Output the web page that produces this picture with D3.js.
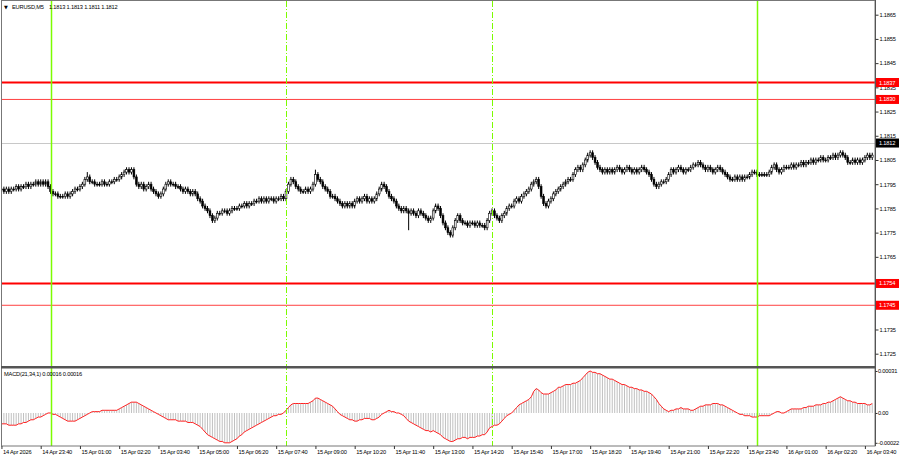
<!DOCTYPE html>
<html>
<head>
<meta charset="utf-8">
<script src="https://cdn.jsdelivr.net/npm/d3@7"></script>
<style>
  body { margin: 0; background: #fff; }
  svg text { font-family: "Liberation Sans", Arial, sans-serif; font-size: 5.7px; letter-spacing: -0.2px; fill: #000; }
</style>
</head>
<body>
<div id="chart"></div>
<script>
// EURUSD M5, 14 Apr 22:20 .. 16 Apr 03:55, prices in pips above BASE
const BASE = 1.17;
const open = [
  93,93,92,93,92,93,93,94, 93,94,94,95,94,95,95,96, 95,96,95,96,94,92,91,91, 90,90,90,91,90,91,92,93,
  93,94,95,97,98,96,96,95, 95,95,96,95,95,96,96,97, 97,98,99,100,101,100,101,98, 95,94,95,93,94,95,93,92,
  91,90,91,93,95,96,95,95, 94,94,93,92,93,92,91,92, 91,89,88,86,85,84,82,80, 81,83,83,84,84,83,84,85,
  85,85,86,86,87,86,87,87, 88,88,89,88,89,88,89,89, 88,89,89,90,89,92,95,97, 96,94,93,92,92,93,92,93,
  95,99,97,96,94,93,92,90, 90,89,88,87,86,87,86,87, 86,88,89,88,89,90,88,89, 88,89,91,93,95,94,92,90,
  89,88,86,85,84,85,84,83, 84,83,82,84,83,82,81,80, 81,84,86,85,82,79,77,75, 74,77,80,82,80,79,79,78,
  79,79,78,79,78,78,77,80, 83,84,82,81,80,82,83,85, 86,86,88,89,88,90,91,92, 93,95,96,97,94,90,87,86,
  88,89,91,92,93,94,95,96, 97,97,99,101,102,101,103,105, 107,108,106,104,102,101,100,101, 100,101,100,101,102,101,100,101,
  102,101,100,101,100,101,102,101, 100,99,97,95,94,95,96,96, 97,99,101,100,101,102,101,100, 101,101,102,103,103,104,103,102,
  101,102,101,100,101,102,101,100, 99,98,97,97,98,97,98,97, 98,98,99,100,100,99,99,99, 99,99,100,102,103,101,100,101,
  102,102,102,103,102,103,103,104, 103,104,104,105,104,105,105,106, 105,105,106,106,107,106,107,108, 107,106,104,104,105,104,105,104,
  105,106,107,106
];
const high = [
  94,94,94,94,94,94,95,95, 95,95,96,96,96,96,97,97, 97,97,97,97,95,93,92,92, 91,91,92,92,92,93,94,94,
  95,96,98,100,99,97,97,96, 96,97,97,96,97,97,98,98, 99,100,101,102,102,102,102,99, 96,96,96,95,96,96,94,93,
  92,92,94,96,97,97,96,96, 95,95,94,94,94,93,93,93, 92,90,89,87,86,85,83,82, 84,84,85,85,85,85,86,86,
  86,87,87,88,88,88,88,89, 89,90,90,90,90,90,90,90, 90,90,91,91,93,96,98,98, 97,95,94,93,94,94,94,96,
  101,100,98,97,95,94,93,91, 91,90,89,88,88,88,88,88, 89,90,90,90,91,91,90,90, 90,92,94,96,96,95,93,91,
  90,89,87,86,86,86,85,85, 85,84,85,85,84,83,82,82, 85,87,87,86,83,80,78,76, 78,81,83,83,81,80,80,80,
  80,80,80,80,79,79,81,84, 85,85,83,82,83,84,86,87, 87,89,90,90,91,92,93,94, 96,97,98,98,95,91,88,89,
  90,92,93,94,95,96,97,98, 98,100,102,103,103,104,106,108, 109,109,107,105,103,102,102,102, 102,102,102,103,103,102,102,103,
  103,102,102,102,102,103,103,102, 101,100,98,96,96,97,97,98, 100,102,102,102,103,103,102,102, 102,103,104,104,105,105,104,103,
  103,103,102,102,103,103,102,101, 100,99,98,99,99,99,99,99, 99,100,101,101,101,100,100,100, 100,101,103,104,104,102,102,103,
  103,103,104,104,104,104,105,105, 105,105,106,106,106,106,107,107, 106,107,107,108,108,108,109,109, 108,107,105,106,106,106,106,106,
  107,108,108,108
];
const low = [
  92,91,91,91,91,92,92,92, 92,93,93,93,93,94,94,94, 94,94,94,93,91,90,90,89, 89,89,89,89,89,90,91,92,
  92,93,94,96,95,95,94,94, 94,94,94,94,94,95,95,96, 96,97,98,99,99,99,97,94, 93,93,92,92,93,92,91,90,
  89,89,90,92,94,94,94,93, 93,92,91,91,91,90,90,90, 88,87,85,84,83,81,79,79, 80,82,82,83,82,82,83,84,
  84,84,85,85,85,85,86,86, 87,87,87,87,87,87,88,87, 87,88,88,88,88,91,94,95, 93,92,91,91,91,91,91,92,
  94,96,95,93,92,91,89,89, 88,87,86,85,85,85,85,85, 85,87,87,87,88,87,87,87, 87,88,90,92,93,91,89,88,
  87,85,84,83,83,83,76,82, 82,81,81,82,81,80,79,79, 80,83,84,81,78,76,74,73, 73,76,79,79,78,78,77,77,
  78,77,77,77,77,76,76,79, 82,81,80,79,79,81,82,84, 85,85,87,87,87,89,90,91, 92,94,95,93,89,86,85,85,
  87,88,90,91,92,93,94,95, 96,96,98,100,100,100,102,104, 106,105,103,101,100,99,99,99, 99,99,99,100,100,99,99,100,
  100,99,99,99,99,100,100,99, 98,96,94,93,93,94,95,95, 96,98,99,99,100,100,99,99, 100,100,101,102,102,102,101,100,
  100,100,99,99,100,100,99,98, 97,96,96,96,96,96,96,96, 97,97,98,99,98,98,98,98, 98,98,99,101,100,99,99,100,
  101,101,101,101,101,102,102,102, 102,103,103,103,103,104,104,104, 104,104,105,105,105,105,106,106, 105,103,103,103,103,103,103,103,
  104,105,105,105
];
const close = [
  93,92,93,92,93,93,94,93, 94,94,95,94,95,95,96,95, 96,95,96,94,92,91,91,90, 90,90,91,90,91,92,93,93,
  94,95,97,98,96,96,95,95, 95,96,95,95,96,96,97,97, 98,99,100,101,100,101,98,95, 94,95,93,94,95,93,92,91,
  90,91,93,95,96,95,95,94, 94,93,92,93,92,91,92,91, 89,88,86,85,84,82,80,81, 83,83,84,84,83,84,85,85,
  85,86,86,87,86,87,87,88, 88,89,88,89,88,89,89,88, 89,89,90,89,92,95,97,96, 94,93,92,92,93,92,93,95,
  99,97,96,94,93,92,90,90, 89,88,87,86,87,86,87,86, 88,89,88,89,90,88,89,88, 89,91,93,95,94,92,90,89,
  88,86,85,84,85,84,83,84, 83,82,84,83,82,81,80,81, 84,86,85,82,79,77,75,74, 77,80,82,80,79,79,78,79,
  79,78,79,78,78,77,80,83, 84,82,81,80,82,83,85,86, 86,88,89,88,90,91,92,93, 95,96,97,94,90,87,86,88,
  89,91,92,93,94,95,96,97, 97,99,101,102,101,103,105,107, 108,106,104,102,101,100,101,100, 101,100,101,102,101,100,101,102,
  101,100,101,100,101,102,101,100, 99,97,95,94,95,96,96,97, 99,101,100,101,102,101,100,101, 101,102,103,103,104,103,102,101,
  102,101,100,101,102,101,100,99, 98,97,97,98,97,98,97,98, 98,99,100,100,99,99,99,99, 99,100,102,103,101,100,101,102,
  102,102,103,102,103,103,104,103, 104,104,105,104,105,105,106,105, 105,106,106,107,106,107,108,107, 106,104,104,105,104,105,104,105,
  106,107,106,107
];
// MACD(21,34,1) main = signal, in units of 0.00001
const macd = [
  -8,-8,-8,-9,-9,-9,-9,-8, -8,-7,-7,-6,-5,-5,-4,-3, -3,-2,-1,0,0,-1,-1,-2, -3,-4,-5,-6,-6,-6,-6,-5,
  -4,-3,-2,-1,0,1,1,1, 1,2,2,2,2,2,2,2, 3,4,5,6,7,8,8,8, 7,6,5,4,3,2,1,0,
  -1,-2,-3,-4,-5,-5,-5,-5, -6,-6,-6,-6,-7,-7,-7,-8, -9,-10,-12,-14,-16,-17,-18,-19, -20,-21,-21,-22,-22,-22,-21,-20,
  -19,-17,-16,-14,-13,-12,-11,-10, -9,-8,-7,-6,-5,-4,-3,-2, -2,-1,-1,0,2,4,6,7, 7,7,7,7,7,7,8,9,
  11,11,10,9,8,7,6,5, 3,1,-1,-2,-3,-4,-5,-5, -6,-6,-5,-5,-4,-4,-4,-5, -5,-4,-3,-1,0,1,2,1,
  1,0,0,-1,-2,-4,-6,-7, -8,-9,-10,-11,-12,-13,-13,-14, -13,-14,-15,-16,-18,-19,-20,-21, -21,-20,-19,-19,-18,-18,-19,-18,
  -18,-18,-17,-17,-16,-16,-14,-11, -10,-9,-9,-8,-6,-4,-2,-1, 0,2,4,6,7,8,9,10, 12,16,18,17,15,14,14,14,
  15,16,17,19,19,20,21,21, 21,22,22,23,24,26,28,30, 31,30,30,29,29,28,27,26, 25,25,24,23,22,21,21,20,
  19,19,18,18,17,17,16,16, 15,14,12,10,7,5,3,2, 1,2,2,3,3,4,3,3, 3,2,2,3,4,5,5,6,
  6,6,7,7,7,6,6,5, 4,3,2,1,0,-1,-1,-2, -2,-2,-3,-3,-3,-2,-2,-2, -2,-2,-1,0,1,1,0,0,
  1,2,3,3,3,3,3,4, 4,5,5,5,6,6,6,7, 7,8,8,9,10,11,12,11, 10,9,9,8,8,7,7,7,
  7,6,6,7
];
const priceTicks = [1.1865,1.1855,1.1845,1.1835,1.1825,1.1815,1.1805,1.1795,1.1785,1.1775,1.1765,1.1735,1.1725];
const levels = [1.1837, 1.1830, 1.1754, 1.1745];
const levelWeight = [2, 1, 2, 1];
const bidPrice = 1.1812;
const macdTicks = [31, 0, -22];
const macdTickText = ["0.00031", "0.00", "-0.00022"];
const timeLabels = ["14 Apr 2026","14 Apr 23:40","15 Apr 01:00","15 Apr 02:20","15 Apr 03:40","15 Apr 05:00",
  "15 Apr 06:20","15 Apr 07:40","15 Apr 09:00","15 Apr 10:20","15 Apr 11:40","15 Apr 13:00","15 Apr 14:20",
  "15 Apr 15:40","15 Apr 17:00","15 Apr 18:20","15 Apr 19:40","15 Apr 21:00","15 Apr 22:20","15 Apr 23:40",
  "16 Apr 01:00","16 Apr 02:20","16 Apr 03:40"];
const labelEvery = 16;
// bar index of the vertical lines: 15 Apr 00:00, 08:00, 15:00, 16 Apr 00:00
const sessionBars = [20, 116, 200, 308];
const sessionSolid = [true, false, false, true];
const titleText = "EURUSD,M5";
const titleOHLC = "1.1813 1.1813 1.1811 1.1812";
const macdTitle = "MACD(21,34,1) 0.00016 0.00016";

const W = 900, H = 460;
const left = 2, right = 875, mainTop = 1, mainBot = 366, subTop = 368, subBot = 446;
const barStep = 2.453;

const svg = d3.select("#chart").append("svg").attr("width", W).attr("height", H);
svg.append("rect").attr("width", W).attr("height", H).attr("fill", "#fff");

const x = d3.scaleLinear().domain([0, close.length - 1]).range([1.45, 1.45 + (close.length - 1) * barStep]);
const y = d3.scaleLinear().domain([1.1865, 1.1725]).range([14.7, 353.7]);
const ym = d3.scaleLinear().domain([31, -22]).range([371, 442.8]);
const px = v => BASE + v / 10000;

const defs = svg.append("defs");
defs.append("clipPath").attr("id", "clipMain").append("rect")
  .attr("x", left).attr("y", mainTop).attr("width", right - left).attr("height", mainBot - mainTop);
defs.append("clipPath").attr("id", "clipSub").append("rect")
  .attr("x", left).attr("y", subTop).attr("width", right - left).attr("height", subBot - subTop);

const main = svg.append("g").attr("clip-path", "url(#clipMain)");
const sub = svg.append("g").attr("clip-path", "url(#clipSub)");

// bid line
main.append("line").attr("x1", left).attr("x2", right)
  .attr("y1", Math.round(y(bidPrice)) + 0.5).attr("y2", Math.round(y(bidPrice)) + 0.5)
  .attr("stroke", "#c8c8c8").attr("stroke-width", 1);

// levels
main.selectAll(".lvl").data(levels).enter().append("line")
  .attr("x1", left).attr("x2", right)
  .attr("y1", d => y(d)).attr("y2", d => y(d))
  .attr("stroke", (d, i) => levelWeight[i] > 1 ? "#ff0000" : "#ff4040")
  .attr("stroke-width", (d, i) => levelWeight[i]);

// candles
const bars = d3.range(close.length);
main.selectAll(".wick").data(bars).enter().append("line")
  .attr("x1", i => x(i)).attr("x2", i => x(i))
  .attr("y1", i => y(px(high[i]))).attr("y2", i => y(px(low[i])))
  .attr("stroke", "#000").attr("stroke-width", 1);
main.selectAll(".body").data(bars).enter().append("rect")
  .attr("x", i => x(i) - 0.9).attr("width", 1.8)
  .attr("y", i => y(px(Math.max(open[i], close[i]))))
  .attr("height", i => Math.max(0.8, Math.abs(y(px(open[i])) - y(px(close[i])))))
  .attr("fill", i => close[i] > open[i] ? "#fff" : "#000")
  .attr("stroke", "#000").attr("stroke-width", 0.6);

// MACD histogram + signal
sub.selectAll(".hist").data(bars).enter().append("line")
  .attr("x1", i => x(i)).attr("x2", i => x(i))
  .attr("y1", ym(0)).attr("y2", i => ym(macd[i]))
  .attr("stroke", "#c0c0c0").attr("stroke-width", 1);
sub.append("path").datum(bars)
  .attr("d", d3.line().x(i => x(i)).y(i => ym(macd[i])))
  .attr("fill", "none").attr("stroke", "#ff2020").attr("stroke-width", 1);

// vertical session lines
svg.selectAll(".sess").data(sessionBars).enter().append("line")
  .attr("x1", d => Math.round(x(d)) + 0.5).attr("x2", d => Math.round(x(d)) + 0.5)
  .attr("y1", mainTop).attr("y2", subBot)
  .attr("stroke", "#7cfc00")
  .attr("stroke-width", (d, i) => sessionSolid[i] ? 1.5 : 1)
  .attr("stroke-dasharray", (d, i) => sessionSolid[i] ? null : "6,2,1,2");

// frames
svg.append("rect").attr("x", left - 0.5).attr("y", mainTop - 0.5)
  .attr("width", right - left + 0.5).attr("height", subBot - mainTop + 0.5)
  .attr("fill", "none").attr("stroke", "#777").attr("stroke-width", 1);
svg.append("rect").attr("x", left - 1).attr("y", mainBot).attr("width", right - left + 1).attr("height", 2.5)
  .attr("fill", "#555");
svg.append("line").attr("x1", right + 0.5).attr("x2", right + 0.5).attr("y1", 0).attr("y2", subBot)
  .attr("stroke", "#555").attr("stroke-width", 1);

// price axis
const pAxis = svg.append("g").attr("transform", `translate(${right + 0.5},0)`)
  .call(d3.axisRight(y).tickValues(priceTicks).tickSize(3).tickPadding(1).tickFormat(d3.format(".4f")));
pAxis.select(".domain").remove();
pAxis.selectAll("line").attr("stroke", "#333");
pAxis.selectAll("text").attr("font-size", null).attr("font-family", null);

// MACD axis
const mAxis = svg.append("g").attr("transform", `translate(${right + 0.5},0)`)
  .call(d3.axisRight(ym).tickValues(macdTicks).tickSize(2).tickPadding(0.5).tickFormat((d, i) => macdTickText[i]));
mAxis.select(".domain").remove();
mAxis.selectAll("line").attr("stroke", "#333");
mAxis.selectAll("text").attr("font-size", null).attr("font-family", null);

// level labels
const lbl = svg.selectAll(".lvlLbl").data(levels).enter().append("g")
  .attr("transform", d => `translate(${right + 1},${y(d)})`);
lbl.append("rect").attr("x", 0).attr("y", -4.5).attr("width", 23).attr("height", 9).attr("fill", "#ff0000");
lbl.append("text").attr("x", 3).attr("dy", "0.35em").style("fill", "#fff").text(d => d.toFixed(4));

const bidLbl = svg.append("g").attr("transform", `translate(${right + 1},${y(bidPrice)})`);
bidLbl.append("rect").attr("y", -4.5).attr("width", 23).attr("height", 9).attr("fill", "#000");
bidLbl.append("text").attr("x", 3).attr("dy", "0.35em").style("fill", "#fff").text(bidPrice.toFixed(4));

// time axis
const tAxis = svg.append("g").attr("transform", `translate(0,${subBot})`)
  .call(d3.axisBottom(x).tickValues(timeLabels.map((t, k) => k * labelEvery)).tickSize(3)
    .tickFormat((d, k) => timeLabels[k]));
tAxis.select(".domain").remove();
tAxis.selectAll("line").attr("stroke", "#333");
tAxis.selectAll("text").attr("font-size", null).attr("font-family", null)
  .attr("text-anchor", "start").attr("dx", 1).attr("y", 4);

// titles
svg.append("text").attr("x", 4).attr("y", 8.5).style("font-family", "DejaVu Sans").style("font-size", "5px").text("▼");
svg.append("text").attr("x", 12).attr("y", 8.5).text(titleText);
svg.append("text").attr("x", 49).attr("y", 8.5).text(titleOHLC);
svg.append("text").attr("x", 4).attr("y", 376).text(macdTitle);
</script>
</body>
</html>
